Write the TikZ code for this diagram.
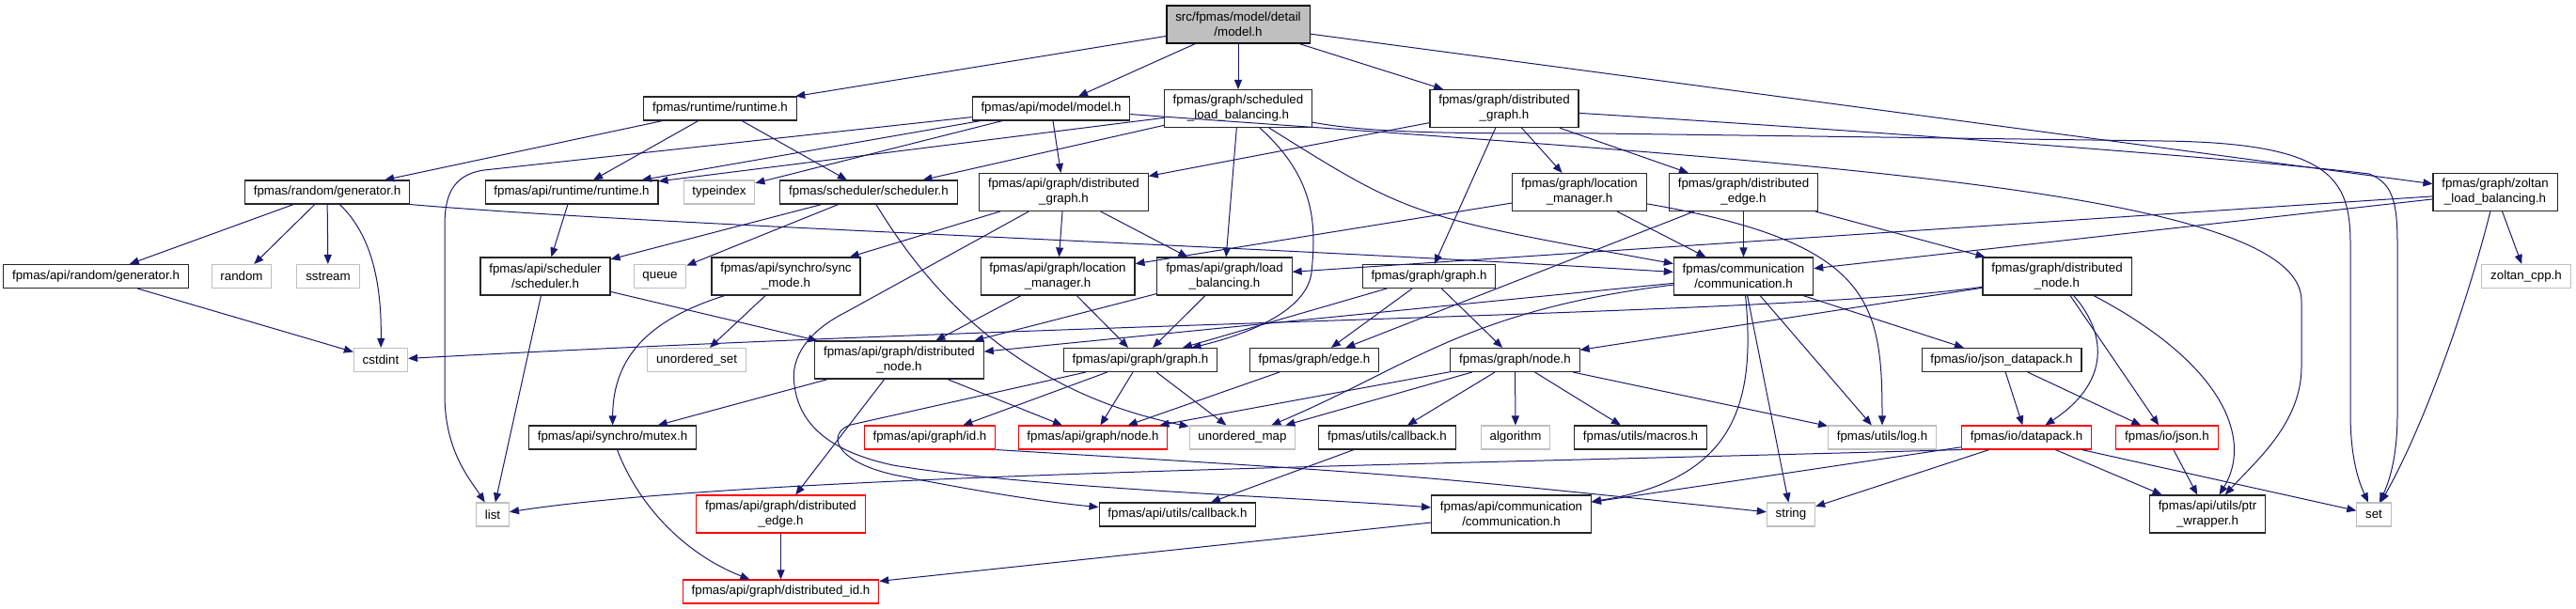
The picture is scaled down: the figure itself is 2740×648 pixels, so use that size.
\documentclass[tikz,border=0pt]{standalone}
\usepackage{fontspec}
\setmainfont{Liberation Sans}
\usetikzlibrary{arrows.meta}
\definecolor{inclblue}{RGB}{25,25,112}
\definecolor{sysgray}{RGB}{191,191,191}
\tikzset{
  % file boxes of the include graph
  filebox/.style={draw=black!85, line width=0.8pt, fill=white, inner xsep=7pt,
    inner ysep=2pt, minimum height=18.75pt, align=center,
    font=\fontsize{10}{12}\selectfont},
  twoline/.style={minimum height=30pt},
  sysbox/.style={filebox, draw=sysgray},
  truncbox/.style={filebox, draw=red},
  rootbox/.style={filebox, fill=sysgray, draw=black},
  % the include arrow
  incl/.style={-{Triangle[length=7.5pt,width=6pt]}, line width=0.75pt, inclblue},
}

\begin{document}
\begin{tikzpicture}[x=0.75pt, y=-0.75pt]
  \useasboundingbox (0,0) rectangle (2740,648);
  % --- root ---
  \node[rootbox, twoline] (main) at (1317,26) {src/fpmas/model/detail\\/model.h};
  % --- first level ---
  \node[filebox] (rt) at (766,115.5) {fpmas/runtime/runtime.h};
  \node[filebox] (amodel) at (1118,115.5) {fpmas/api/model/model.h};
  \node[filebox, twoline] (schedlb) at (1317,115.5) {fpmas/graph/scheduled\\\_load\_balancing.h};
  \node[filebox, twoline] (gdgraph) at (1600,115.5) {fpmas/graph/distributed\\\_graph.h};
  % --- second level ---
  \node[filebox] (rgen) at (348,204.5) {fpmas/random/generator.h};
  \node[filebox] (artime) at (608,204.5) {fpmas/api/runtime/runtime.h};
  \node[sysbox] (typeindex) at (765,204.5) {typeindex};
  \node[filebox] (sched) at (924,204.5) {fpmas/scheduler/scheduler.h};
  \node[filebox, twoline] (adgraph) at (1131.5,204.5) {fpmas/api/graph/distributed\\\_graph.h};
  \node[filebox, twoline] (glocm) at (1680,204.5) {fpmas/graph/location\\\_manager.h};
  \node[filebox, twoline] (gdedge) at (1854.5,204.5) {fpmas/graph/distributed\\\_edge.h};
  \node[filebox, twoline] (zoltan) at (2654,204.5) {fpmas/graph/zoltan\\\_load\_balancing.h};
  % --- third level ---
  \node[filebox] (argen) at (102,294) {fpmas/api/random/generator.h};
  \node[sysbox] (random) at (257,294) {random};
  \node[sysbox] (sstream) at (349,294) {sstream};
  \node[filebox, twoline] (asched) at (580,294) {fpmas/api/scheduler\\/scheduler.h};
  \node[sysbox] (queue) at (702,294) {queue};
  \node[filebox, twoline] (syncm) at (836,294) {fpmas/api/synchro/sync\\\_mode.h};
  \node[filebox, twoline] (alocm) at (1125,294) {fpmas/api/graph/location\\\_manager.h};
  \node[filebox, twoline] (aloadb) at (1302.5,294) {fpmas/api/graph/load\\\_balancing.h};
  \node[filebox] (ggraph) at (1520,294) {fpmas/graph/graph.h};
  \node[filebox, twoline] (comm) at (1854.5,294) {fpmas/communication\\/communication.h};
  \node[filebox, twoline] (gdnode) at (2188,294) {fpmas/graph/distributed\\\_node.h};
  \node[sysbox] (zcpp) at (2687,294) {zoltan\_cpp.h};
  % --- fourth level ---
  \node[sysbox] (cstdint) at (405,383) {cstdint};
  \node[sysbox] (uset) at (741,383) {unordered\_set};
  \node[filebox, twoline] (adnode) at (956.5,383) {fpmas/api/graph/distributed\\\_node.h};
  \node[filebox] (agraph) at (1213,383) {fpmas/api/graph/graph.h};
  \node[filebox] (gedge) at (1398,383) {fpmas/graph/edge.h};
  \node[filebox] (gnode) at (1611.5,383) {fpmas/graph/node.h};
  \node[filebox] (jsondp) at (2129,383) {fpmas/io/json\_datapack.h};
  % --- fifth level ---
  \node[filebox] (mutex) at (651.5,465.5) {fpmas/api/synchro/mutex.h};
  \node[truncbox] (aid) at (989,465.5) {fpmas/api/graph/id.h};
  \node[truncbox] (anode) at (1162.5,465.5) {fpmas/api/graph/node.h};
  \node[sysbox] (umap) at (1321.5,465.5) {unordered\_map};
  \node[filebox] (ucallback) at (1475.5,465.5) {fpmas/utils/callback.h};
  \node[sysbox] (algorithm) at (1612,465.5) {algorithm};
  \node[filebox] (macros) at (1745,465.5) {fpmas/utils/macros.h};
  \node[sysbox] (log) at (2002,465.5) {fpmas/utils/log.h};
  \node[truncbox] (datapack) at (2155.5,465.5) {fpmas/io/datapack.h};
  \node[truncbox] (json) at (2305,465.5) {fpmas/io/json.h};
  % --- sixth level ---
  \node[sysbox] (list) at (524,547.5) {list};
  \node[truncbox, twoline] (adedge) at (830.5,547) {fpmas/api/graph/distributed\\\_edge.h};
  \node[filebox] (acallback) at (1252.5,547.5) {fpmas/api/utils/callback.h};
  \node[filebox, twoline] (acomm) at (1607.5,547) {fpmas/api/communication\\/communication.h};
  \node[sysbox] (string) at (1905,547.5) {string};
  \node[filebox, twoline] (ptrw) at (2348,547) {fpmas/api/utils/ptr\\\_wrapper.h};
  \node[sysbox] (set) at (2525,547.5) {set};
  % --- last level ---
  \node[truncbox] (adid) at (830.5,629.5) {fpmas/api/graph/distributed\_id.h};

  % --- includes of the root ---
  \foreach \t in {rt,amodel,schedlb,gdgraph,zoltan} \draw[incl] (main) -- (\t);
  % fpmas/runtime/runtime.h
  \foreach \t in {rgen,artime,sched} \draw[incl] (rt) -- (\t);
  % fpmas/api/model/model.h
  \foreach \t in {artime,typeindex,adgraph} \draw[incl] (amodel) -- (\t);
  \draw[incl] (amodel) -- (515,181) .. controls (480,186) and (473,210) .. (473,240)
    -- (473,420) .. controls (473,480) and (500,510) .. (list);
  \draw[incl] (amodel) .. controls (1900,172) and (2448,200) .. (2448,320)
    -- (2448,390) .. controls (2448,450) and (2400,490) .. (ptrw);
  % fpmas/graph/scheduled_load_balancing.h
  \foreach \t in {artime,sched,aloadb} \draw[incl] (schedlb) -- (\t);
  \draw[incl] (schedlb) .. controls (1500,230) .. (comm);
  \draw[incl] (schedlb) .. controls (1400,190) and (1400,240) .. (1395,290)
    .. controls (1390,330) and (1330,355) .. (agraph);
  \draw[incl] (schedlb) .. controls (1460,142) and (1550,142) .. (1700,142) -- (2300,150)
    .. controls (2480,152) and (2500,190) .. (2500,260) -- (2500,440)
    .. controls (2500,490) and (2510,515) .. (set);
  % fpmas/graph/distributed_graph.h
  \foreach \t in {adgraph,ggraph,glocm,gdedge} \draw[incl] (gdgraph) -- (\t);
  \draw[incl] (gdgraph) .. controls (2000,140) and (2400,170) .. (2520,185)
    .. controls (2545,195) and (2550,215) .. (2550,260) -- (2550,440)
    .. controls (2550,490) and (2540,515) .. (set);
  % fpmas/graph/zoltan_load_balancing.h
  \foreach \t in {aloadb,comm,zcpp} \draw[incl] (zoltan) -- (\t);
  \draw[incl] (zoltan) .. controls (2625,320) and (2580,450) .. (set);
  % fpmas/random/generator.h
  \foreach \t in {argen,random,sstream} \draw[incl] (rgen) -- (\t);
  \draw[incl] (rgen) .. controls (395,250) and (406,300) .. (cstdint);
  \draw[incl] (rgen.south east) .. controls (700,240) and (1300,260) .. (comm);
  \draw[incl] (argen) -- (cstdint);
  % schedulers
  \foreach \t in {asched,queue} \draw[incl] (sched) -- (\t);
  \draw[incl] (sched) .. controls (1000,330) and (1100,420) .. (umap);
  \draw[incl] (artime) -- (asched);
  \foreach \t in {list,adnode} \draw[incl] (asched) -- (\t);
  % fpmas/api/graph/distributed_graph.h
  \foreach \t in {syncm,alocm,aloadb} \draw[incl] (adgraph) -- (\t);
  \draw[incl] (adgraph) -- (900,332) .. controls (860,352) and (840,380) .. (845,410)
    .. controls (850,450) and (880,480) .. (950,495)
    .. controls (1100,520) and (1400,530) .. (acomm);
  \draw[incl] (syncm) -- (uset);
  \draw[incl] (syncm) .. controls (690,340) and (652,380) .. (mutex);
  \foreach \t in {adnode,agraph} \draw[incl] (alocm) -- (\t);
  \foreach \t in {adnode,agraph} \draw[incl] (aloadb) -- (\t);
  % fpmas/graph/location_manager.h and distributed_edge.h
  \foreach \t in {alocm,comm} \draw[incl] (glocm) -- (\t);
  \draw[incl] (glocm) .. controls (1990,258) and (2002,320) .. (log);
  \foreach \t in {comm,gedge,gdnode} \draw[incl] (gdedge) -- (\t);
  % fpmas/graph/graph.h
  \foreach \t in {agraph,gedge,gnode} \draw[incl] (ggraph) -- (\t);
  % fpmas/communication/communication.h
  \foreach \t in {adnode,string,log,jsondp} \draw[incl] (comm) -- (\t);
  \draw[incl] (comm) .. controls (1560,330) and (1500,390) .. (umap);
  \draw[incl] (comm) .. controls (1868,430) and (1845,510) .. (acomm);
  % fpmas/graph/distributed_node.h
  \draw[incl] (gdnode) -- (gnode);
  \draw[incl] (gdnode) .. controls (1900,335) and (1200,340) .. (cstdint);
  \draw[incl] (gdnode) .. controls (2245,360) and (2240,410) .. (datapack);
  \draw[incl] (gdnode) -- (json);
  \draw[incl] (gdnode) .. controls (2370,390) and (2395,470) .. (ptrw);
  % fpmas/api/graph/distributed_node.h and graph.h
  \foreach \t in {mutex,adedge,anode} \draw[incl] (adnode) -- (\t);
  \foreach \t in {aid,anode,umap} \draw[incl] (agraph) -- (\t);
  \draw[incl] (agraph) -- (905,452) .. controls (880,460) and (885,490) .. (950,505)
    .. controls (1050,525) and (1120,535) .. (acallback);
  \draw[incl] (gedge) -- (anode);
  % fpmas/graph/node.h
  \foreach \t in {anode,umap,ucallback,algorithm,macros,log} \draw[incl] (gnode) -- (\t);
  % io
  \foreach \t in {datapack,json} \draw[incl] (jsondp) -- (\t);
  \draw[incl] (datapack.south west) .. controls (1500,495) and (800,505) .. (list);
  \foreach \t in {acomm,string,ptrw,set} \draw[incl] (datapack) -- (\t);
  \draw[incl] (json) -- (ptrw);
  % bottom rows
  \draw[incl] (aid.south east) .. controls (1500,505) .. (string);
  \draw[incl] (ucallback) -- (acallback);
  \draw[incl] (mutex) .. controls (680,540) and (730,590) .. (adid);
  \draw[incl] (adedge) -- (adid);
  \draw[incl] (acomm) -- (adid);
\end{tikzpicture}
\end{document}
